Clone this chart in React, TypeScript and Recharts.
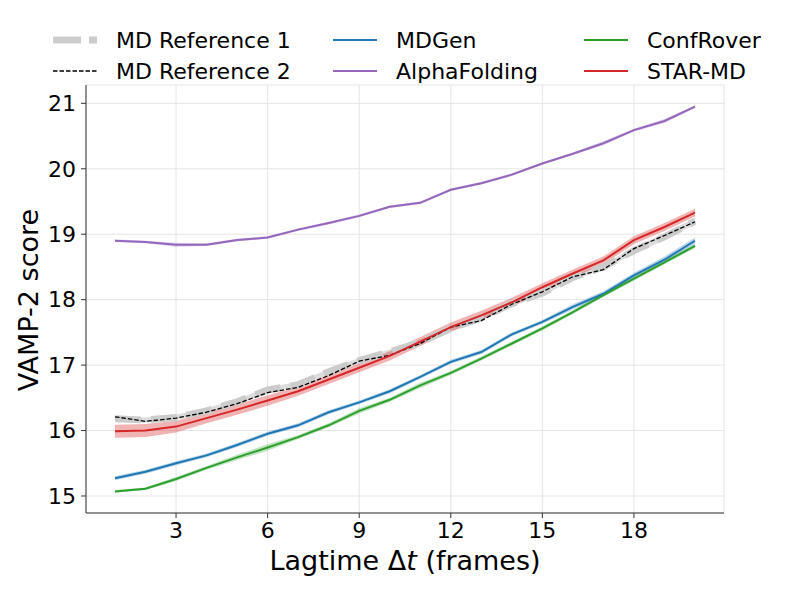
import React from 'react';
import { ComposedChart, Line, Area, XAxis, YAxis, CartesianGrid, Label } from 'recharts';

const lagtimes = [1, 2, 3, 4, 5, 6, 7, 8, 9, 10, 11, 12, 13, 14, 15, 16, 17, 18, 19, 20];

const mdRef1 = [16.18, 16.16, 16.2, 16.3, 16.44, 16.62, 16.7, 16.9, 17.07, 17.2, 17.35, 17.56, 17.72, 17.94, 18.1, 18.34, 18.5, 18.75, 18.96, 19.2];
const mdRef1Std = [0.04, 0.04, 0.04, 0.04, 0.04, 0.04, 0.04, 0.04, 0.04, 0.04, 0.04, 0.04, 0.04, 0.04, 0.04, 0.04, 0.04, 0.05, 0.05, 0.05];
const mdRef2 = [16.21, 16.14, 16.19, 16.28, 16.41, 16.58, 16.66, 16.84, 17.06, 17.15, 17.33, 17.58, 17.68, 17.93, 18.12, 18.35, 18.46, 18.78, 18.98, 19.19];

const mdGen = [15.27, 15.37, 15.5, 15.62, 15.78, 15.95, 16.08, 16.28, 16.43, 16.6, 16.82, 17.05, 17.2, 17.47, 17.66, 17.89, 18.09, 18.37, 18.61, 18.9];
const mdGenStd = [0.03, 0.03, 0.03, 0.03, 0.03, 0.03, 0.03, 0.03, 0.03, 0.03, 0.03, 0.03, 0.03, 0.03, 0.03, 0.04, 0.04, 0.04, 0.05, 0.05];

const alphaFolding = [18.9, 18.88, 18.84, 18.84, 18.91, 18.95, 19.07, 19.17, 19.28, 19.42, 19.48, 19.68, 19.78, 19.91, 20.08, 20.23, 20.39, 20.59, 20.73, 20.95];
const alphaFoldingStd = [0.02, 0.02, 0.03, 0.02, 0.02, 0.02, 0.02, 0.02, 0.02, 0.02, 0.02, 0.02, 0.02, 0.02, 0.02, 0.02, 0.03, 0.02, 0.03, 0.02];

const confRover = [15.07, 15.11, 15.26, 15.43, 15.59, 15.74, 15.9, 16.08, 16.3, 16.47, 16.69, 16.88, 17.1, 17.33, 17.56, 17.81, 18.07, 18.32, 18.57, 18.82];
const confRoverStd = [0.02, 0.02, 0.03, 0.03, 0.04, 0.05, 0.03, 0.03, 0.04, 0.03, 0.04, 0.03, 0.03, 0.03, 0.03, 0.03, 0.03, 0.03, 0.03, 0.03];

const starMd = [15.99, 16.0, 16.06, 16.19, 16.32, 16.46, 16.6, 16.78, 16.96, 17.14, 17.36, 17.58, 17.76, 17.96, 18.19, 18.4, 18.6, 18.91, 19.11, 19.33];
const starMdStd = [0.1, 0.1, 0.09, 0.08, 0.08, 0.08, 0.07, 0.07, 0.07, 0.07, 0.07, 0.07, 0.07, 0.07, 0.06, 0.06, 0.06, 0.06, 0.06, 0.06];

const xTicks = [3, 6, 9, 12, 15, 18];
const yTicks = [15, 16, 17, 18, 19, 20, 21];

const FONT = '"DejaVu Sans", sans-serif';

const band = (v: number[], s: number[], i: number) => [v[i] - s[i], v[i] + s[i]];

const data = lagtimes.map((lag, i) => ({
  lag,
  mdRef1: mdRef1[i],
  mdRef1Band: band(mdRef1, mdRef1Std, i),
  mdRef2: mdRef2[i],
  mdGen: mdGen[i],
  mdGenBand: band(mdGen, mdGenStd, i),
  alphaFolding: alphaFolding[i],
  alphaFoldingBand: band(alphaFolding, alphaFoldingStd, i),
  confRover: confRover[i],
  confRoverBand: band(confRover, confRoverStd, i),
  starMd: starMd[i],
  starMdBand: band(starMd, starMdStd, i),
}));

// legend entries, column by column
const legendItems = [
  { name: 'MD Reference 1', color: '#cccccc', width: 7, dash: '28 8', col: 0, row: 0 },
  { name: 'MD Reference 2', color: '#000000', width: 1.3, dash: '4.5 2', col: 0, row: 1 },
  { name: 'MDGen', color: '#1f77b4', width: 2, dash: undefined, col: 1, row: 0 },
  { name: 'AlphaFolding', color: '#9467bd', width: 2, dash: undefined, col: 1, row: 1 },
  { name: 'ConfRover', color: '#2ca02c', width: 2, dash: undefined, col: 2, row: 0 },
  { name: 'STAR-MD', color: '#d62728', width: 2, dash: undefined, col: 2, row: 1 },
];
const colX = [53, 333, 584];
const rowY = [40, 71];

const ChartLegend = () => (
  <svg width={793} height={95} style={{ position: 'absolute', left: 0, top: 0 }}>
    {legendItems.map((it) => {
      const x = colX[it.col];
      const y = rowY[it.row];
      return (
        <g key={it.name}>
          <line x1={x} x2={x + 44} y1={y} y2={y} stroke={it.color} strokeWidth={it.width} strokeDasharray={it.dash} />
          <text x={x + 63} y={y + 8} fontSize={22} fontFamily={FONT} fill="#000">
            {it.name}
          </text>
        </g>
      );
    })}
  </svg>
);

const tickStyle = { fontSize: 22, fill: '#000', fontFamily: FONT };

export default function App() {
  return (
    <div style={{ position: 'relative', width: 793, height: 595, background: '#fff', fontFamily: FONT }}>
      <style>{'body{margin:0}'}</style>
      <ComposedChart width={793} height={595} data={data} margin={{ top: 85, right: 69, bottom: 42, left: 26 }}>
        <CartesianGrid stroke="#e5e5e5" strokeWidth={1} />
        <XAxis
          type="number"
          dataKey="lag"
          domain={[0.05, 20.95]}
          ticks={xTicks}
          allowDataOverflow
          height={40}
          stroke="#333"
          tickSize={5}
          tickMargin={4}
          tick={tickStyle}
        >
          <Label
            content={({ viewBox }: any) => (
              <text x={viewBox.x + viewBox.width / 2} y={570} textAnchor="middle" fontSize={27} fontFamily={FONT} fill="#000">
                Lagtime Δ<tspan fontStyle="italic">t</tspan> (frames)
              </text>
            )}
          />
        </XAxis>
        <YAxis
          type="number"
          domain={[14.74, 21.28]}
          ticks={yTicks}
          allowDataOverflow
          width={60}
          stroke="#333"
          tickSize={5}
          tickMargin={5}
          tick={tickStyle}
        >
          <Label
            content={() => (
              <text x={38} y={300} transform="rotate(-90, 38, 300)" textAnchor="middle" fontSize={27} fontFamily={FONT} fill="#000">
                VAMP-2 score
              </text>
            )}
          />
        </YAxis>

        <Area type="linear" dataKey="mdRef1Band" stroke="none" fill="#bbbbbb" fillOpacity={0.5} isAnimationActive={false} />
        <Line type="linear" dataKey="mdRef1" stroke="#cccccc" strokeWidth={7} strokeDasharray="26 10" dot={false} isAnimationActive={false} />
        <Line type="linear" dataKey="mdRef2" stroke="#000" strokeWidth={1.3} strokeDasharray="4.5 2" dot={false} isAnimationActive={false} />

        <Area type="linear" dataKey="mdGenBand" stroke="none" fill="#1f77b4" fillOpacity={0.3} isAnimationActive={false} />
        <Area type="linear" dataKey="alphaFoldingBand" stroke="none" fill="#9467bd" fillOpacity={0.3} isAnimationActive={false} />
        <Area type="linear" dataKey="confRoverBand" stroke="none" fill="#2ca02c" fillOpacity={0.3} isAnimationActive={false} />
        <Area type="linear" dataKey="starMdBand" stroke="none" fill="#d62728" fillOpacity={0.35} isAnimationActive={false} />

        <Line type="linear" dataKey="mdGen" stroke="#1f77b4" strokeWidth={2} dot={false} isAnimationActive={false} />
        <Line type="linear" dataKey="alphaFolding" stroke="#9467bd" strokeWidth={2} dot={false} isAnimationActive={false} />
        <Line type="linear" dataKey="confRover" stroke="#2ca02c" strokeWidth={2} dot={false} isAnimationActive={false} />
        <Line type="linear" dataKey="starMd" stroke="#d62728" strokeWidth={2} dot={false} isAnimationActive={false} />
      </ComposedChart>
      <ChartLegend />
    </div>
  );
}
